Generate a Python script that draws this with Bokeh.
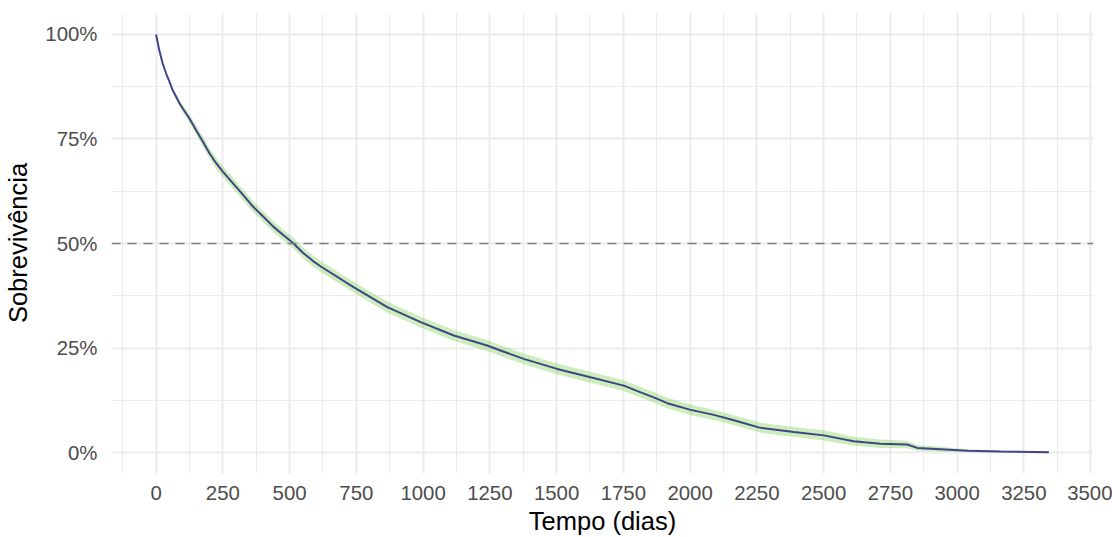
from bokeh.plotting import figure
from bokeh.models import Range1d, FixedTicker, NumeralTickFormatter, Span, ColumnDataSource
from bokeh.embed import file_html
from bokeh.resources import INLINE

# Kaplan-Meier survival estimate (time in days, survival fraction)
tempo = [0, 12, 25, 38, 50, 62, 75, 88, 100, 125, 150, 175, 200, 225, 250, 288, 325,
         362, 400, 438, 475, 512, 550, 588, 617, 741, 866, 991, 1115, 1240, 1290, 1377,
         1502, 1627, 1752, 1815, 1864, 1915, 2002, 2089, 2164, 2264, 2389, 2501, 2613,
         2713, 2813, 2851, 2938, 3038, 3163, 3344]
sobrevivencia = [1.000, 0.962, 0.930, 0.906, 0.887, 0.867, 0.851, 0.835, 0.823, 0.799,
                 0.771, 0.744, 0.716, 0.692, 0.672, 0.644, 0.617, 0.589, 0.565, 0.541,
                 0.521, 0.502, 0.478, 0.458, 0.445, 0.395, 0.348, 0.312, 0.280, 0.256,
                 0.244, 0.224, 0.200, 0.180, 0.160, 0.144, 0.132, 0.118, 0.102, 0.090,
                 0.077, 0.059, 0.049, 0.041, 0.027, 0.021, 0.019, 0.011, 0.008, 0.004,
                 0.0024, 0.0007]
ic_inferior = [1.000, 0.961, 0.928, 0.903, 0.884, 0.862, 0.845, 0.828, 0.814, 0.789,
               0.760, 0.732, 0.704, 0.679, 0.659, 0.631, 0.604, 0.576, 0.552, 0.528,
               0.508, 0.489, 0.465, 0.445, 0.432, 0.382, 0.335, 0.299, 0.267, 0.243,
               0.231, 0.211, 0.187, 0.167, 0.147, 0.131, 0.119, 0.105, 0.089, 0.078,
               0.065, 0.047, 0.037, 0.029, 0.016, 0.011, 0.010, 0.004, 0.002, 0.001,
               0.0003, 0.0000]
ic_superior = [1.000, 0.963, 0.932, 0.909, 0.890, 0.872, 0.857, 0.842, 0.832, 0.809,
               0.782, 0.756, 0.728, 0.705, 0.685, 0.657, 0.630, 0.602, 0.578, 0.554,
               0.534, 0.515, 0.491, 0.471, 0.458, 0.408, 0.361, 0.325, 0.293, 0.269,
               0.257, 0.237, 0.213, 0.193, 0.173, 0.157, 0.145, 0.131, 0.115, 0.102,
               0.089, 0.071, 0.061, 0.053, 0.038, 0.031, 0.028, 0.018, 0.014, 0.008,
               0.0050, 0.0020]

x_ticks = [0, 250, 500, 750, 1000, 1250, 1500, 1750, 2000, 2250, 2500, 2750, 3000, 3250, 3500]
x_minor = [-125, 125, 375, 625, 875, 1125, 1375, 1625, 1875, 2125, 2375, 2625, 2875, 3125, 3375]
y_ticks = [0, 0.25, 0.5, 0.75, 1.0]
y_minor = [0.125, 0.375, 0.625, 0.875]
mediana = 0.5

FONT = "Liberation Sans"

src = ColumnDataSource(dict(t=tempo, s=sobrevivencia, lo=ic_inferior, hi=ic_superior))

p = figure(width=1112, height=537, output_backend="svg", toolbar_location=None,
           x_range=Range1d(-167, 3511), y_range=Range1d(-0.0502, 1.0526),
           min_border_left=111, min_border_right=19, min_border_top=12, min_border_bottom=64)
p.outline_line_color = None
p.background_fill_color = "white"
p.border_fill_color = "white"

# grid
p.xgrid.ticker = FixedTicker(ticks=x_ticks, minor_ticks=x_minor)
p.ygrid.ticker = FixedTicker(ticks=y_ticks, minor_ticks=y_minor)
for g in (p.xgrid, p.ygrid):
    g.grid_line_color = "#EBEBEB"
    g.grid_line_width = 2
    g.minor_grid_line_color = "#EBEBEB"
    g.minor_grid_line_width = 1

# axes
p.xaxis.ticker = FixedTicker(ticks=x_ticks)
p.yaxis.ticker = FixedTicker(ticks=y_ticks)
p.xaxis.formatter = NumeralTickFormatter(format="0")
p.yaxis.formatter = NumeralTickFormatter(format="0%")
for ax in (p.xaxis, p.yaxis):
    ax.axis_line_color = None
    ax.major_tick_line_color = None
    ax.minor_tick_line_color = None
    ax.major_tick_out = 0
    ax.major_tick_in = 0
    ax.major_label_text_font = FONT
    ax.major_label_text_font_size = "20.4px"
    ax.major_label_text_color = "#4D4D4D"
    ax.axis_label_text_font = FONT
    ax.axis_label_text_font_size = "25.5px"
    ax.axis_label_text_font_style = "normal"
    ax.axis_label_text_color = "black"
p.xaxis.axis_label = "Tempo (dias)"
p.yaxis.axis_label = "Sobrevivência"
p.xaxis.major_label_standoff = 12
p.yaxis.major_label_standoff = 14
p.xaxis.axis_label_standoff = 4
p.yaxis.axis_label_standoff = 10

# confidence band and curve
p.varea(x="t", y1="lo", y2="hi", source=src, fill_color="#7AD151", fill_alpha=0.38)
p.line(x="t", y="s", source=src, line_color="#414487", line_width=2)

# median reference line
p.add_layout(Span(location=mediana, dimension="width", line_color="#7F7F7F",
                  line_width=1.5, line_dash="9 7"))

open("out.html", "w").write(file_html(p, INLINE))
